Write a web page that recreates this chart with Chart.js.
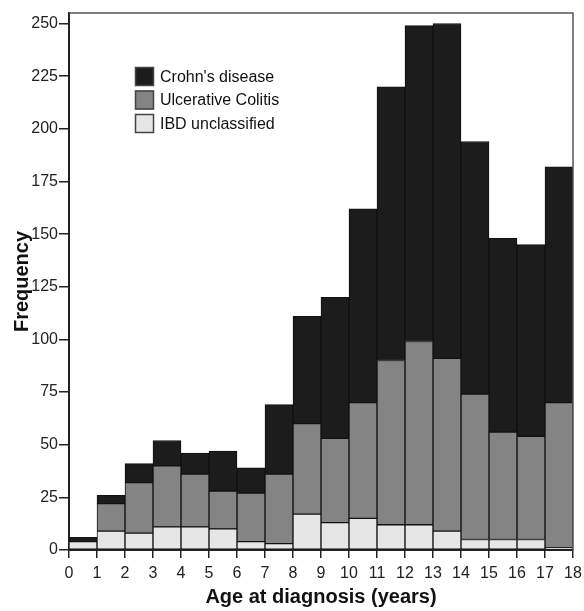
<!DOCTYPE html>
<html>
<head>
<meta charset="utf-8">
<script src="https://cdn.jsdelivr.net/npm/chart.js@4.4.1/dist/chart.umd.min.js"></script>
<style>
  html, body { margin: 0; padding: 0; background: #fff; }
  #wrap { width: 584px; height: 611px; position: relative; }
</style>
</head>
<body>
<div id="wrap"><canvas id="c" width="584" height="611"></canvas></div>
<script>
// Age bins (lower edge, years); each bar spans [age, age+1)
const ages = [0,1,2,3,4,5,6,7,8,9,10,11,12,13,14,15,16,17];
const ibdUnclassified = [4,9,8,11,11,10,4,3,17,13,15,12,12,9,5,5,5,1];
const ulcerativeColitis = [0,13,24,29,25,18,23,33,43,40,55,78,87,82,69,51,49,69];
const crohnsDisease = [2,4,9,12,10,19,12,33,51,67,92,130,150,159,120,92,91,112];
const yTicks = [0,25,50,75,100,125,150,175,200,225,250];
const xTicks = [0,1,2,3,4,5,6,7,8,9,10,11,12,13,14,15,16,17,18];

const toPoints = arr => ages.map((a, i) => ({ x: a + 0.5, y: arr[i] }));

Chart.defaults.font.family = "'Liberation Sans', Arial, sans-serif";
Chart.defaults.color = '#222';

const framePlugin = {
  id: 'frame',
  afterDraw(chart) {
    const { ctx, chartArea: a } = chart;
    ctx.save();
    ctx.strokeStyle = '#555';
    ctx.lineWidth = 1.5;
    ctx.beginPath();
    ctx.moveTo(a.left, a.top);
    ctx.lineTo(a.right, a.top);
    ctx.lineTo(a.right, a.bottom);
    ctx.stroke();
    ctx.restore();
  }
};

const innerLegend = {
  id: 'innerLegend',
  afterDraw(chart) {
    const { ctx } = chart;
    const ds = chart.data.datasets.slice().reverse();
    const x0 = 135, y0 = 67, box = 19, gap = 23.5;
    ctx.save();
    ctx.font = "16px 'Liberation Sans', Arial, sans-serif";
    ctx.textBaseline = 'middle';
    ds.forEach((d, i) => {
      const y = y0 + i * gap;
      ctx.fillStyle = d.backgroundColor;
      ctx.fillRect(x0, y, box, box);
      ctx.strokeStyle = '#444';
      ctx.lineWidth = 1.5;
      ctx.strokeRect(x0 + 0.5, y + 0.5, box - 1, box - 1);
      ctx.fillStyle = '#111';
      ctx.fillText(d.label, x0 + 25, y + box / 2 + 1);
    });
    ctx.restore();
  }
};

new Chart(document.getElementById('c'), {
  type: 'bar',
  data: {
    datasets: [
      { label: 'IBD unclassified', data: toPoints(ibdUnclassified), backgroundColor: '#e6e6e6' },
      { label: 'Ulcerative Colitis', data: toPoints(ulcerativeColitis), backgroundColor: '#848484' },
      { label: "Crohn's disease", data: toPoints(crohnsDisease), backgroundColor: '#1c1c1c' }
    ].map(d => Object.assign(d, {
      borderColor: '#111',
      borderWidth: 1,
      borderSkipped: false,
      barPercentage: 1,
      categoryPercentage: 1
    }))
  },
  options: {
    responsive: false,
    animation: false,
    layout: { padding: { left: 0, right: 11, top: 13, bottom: 0 } },
    plugins: { legend: { display: false }, tooltip: { enabled: false } },
    scales: {
      x: {
        type: 'linear',
        stacked: true,
        min: 0,
        max: 18,
        offset: false,
        afterBuildTicks: s => { s.ticks = xTicks.map(v => ({ value: v })); },
        afterFit: s => { s.height = 61; s.paddingLeft = 0; s.paddingRight = 0; },
        ticks: { stepSize: 1, autoSkip: false, maxRotation: 0, padding: 6,
                 font: { size: 16 }, color: '#222' },
        grid: { display: true, drawOnChartArea: false, drawTicks: true, tickLength: 8,
                color: '#222', lineWidth: 1.5, offset: false },
        border: { display: true, color: '#222', width: 2 },
        title: { display: true, text: 'Age at diagnosis (years)',
                 font: { size: 20, weight: 'bold' }, color: '#111',
                 padding: { top: 0, bottom: 2 } }
      },
      y: {
        stacked: true,
        min: 0,
        max: 255,
        afterBuildTicks: s => { s.ticks = yTicks.map(v => ({ value: v })); },
        afterFit: s => { s.width = 69; s.paddingTop = 0; s.paddingBottom = 0; },
        ticks: { padding: 1, font: { size: 16 }, color: '#222' },
        grid: { display: true, drawOnChartArea: false, drawTicks: true, tickLength: 10,
                color: '#222', lineWidth: 1.5 },
        border: { display: true, color: '#222', width: 2 },
        title: { display: true, text: 'Frequency',
                 font: { size: 20, weight: 'bold' }, color: '#111',
                 padding: { top: 10, bottom: 0 } }
      }
    }
  },
  plugins: [framePlugin, innerLegend]
});
</script>
</body>
</html>
